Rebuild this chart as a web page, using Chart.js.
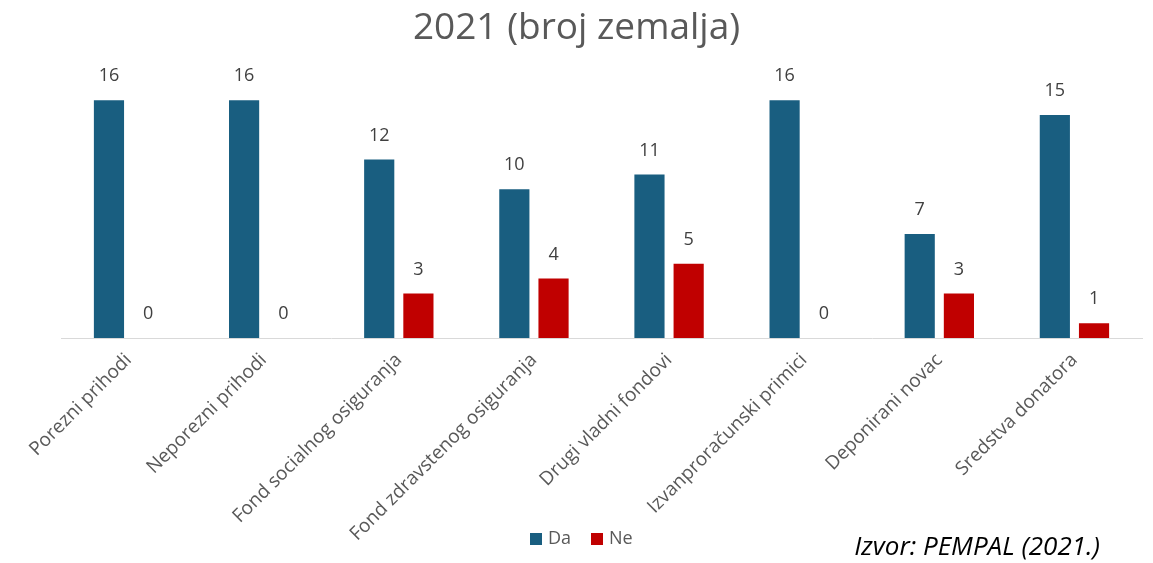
<!DOCTYPE html>
<html lang="hr">
<head>
    <meta charset="UTF-8">
    <title>2021 (broj zemalja)</title>
    <script src="https://cdn.jsdelivr.net/npm/chart.js"></script>
    <style>
        html, body {
            margin: 0;
            padding: 0;
            background: #fff;
        }
        #wrap {
            width: 1153px;
            height: 563px;
            position: relative;
        }
    </style>
</head>
<body>
    <div id="wrap">
        <canvas id="chart" width="1153" height="563"></canvas>
    </div>

    <script>
        // podaci s grafikona
        const kategorije = [
            'Porezni prihodi',
            'Neporezni prihodi',
            'Fond socialnog osiguranja',
            'Fond zdravstenog osiguranja',
            'Drugi vladni fondovi',
            'Izvanproračunski primici',
            'Deponirani novac',
            'Sredstva donatora'
        ];
        const da = [16, 16, 12, 10, 11, 16, 7, 15];
        const ne = [0, 0, 3, 4, 5, 0, 3, 1];

        const FONT = '"Open Sans", "Noto Sans", sans-serif';

        // brojevi iznad stupaca
        const valueLabels = {
            id: 'valueLabels',
            afterDatasetsDraw(chart) {
                const ctx = chart.ctx;
                ctx.save();
                ctx.font = '18px ' + FONT;
                ctx.fillStyle = '#404040';
                ctx.textAlign = 'center';
                ctx.textBaseline = 'bottom';
                chart.data.datasets.forEach((ds, i) => {
                    chart.getDatasetMeta(i).data.forEach((bar, j) => {
                        ctx.fillText(ds.data[j], bar.x, bar.y - 15);
                    });
                });
                ctx.restore();
            }
        };

        // legenda i izvor na dnu
        const bottomText = {
            id: 'bottomText',
            afterDraw(chart) {
                const ctx = chart.ctx;
                ctx.save();
                ctx.font = '18px ' + FONT;
                ctx.textBaseline = 'middle';
                let x = 530;
                const y = 539;
                chart.data.datasets.forEach(ds => {
                    ctx.fillStyle = ds.backgroundColor;
                    ctx.fillRect(x, y - 6, 12, 12);
                    ctx.fillStyle = '#595959';
                    ctx.textAlign = 'left';
                    ctx.fillText(ds.label, x + 18, y);
                    x += 61;
                });

                ctx.font = 'italic 26px ' + FONT;
                ctx.fillStyle = '#000';
                ctx.textAlign = 'right';
                ctx.fillText('Izvor: PEMPAL (2021.)', 1100, 548);
                ctx.restore();
            }
        };

        // prazne osi samo za razmak lijevo i desno
        const hiddenAxis = (position, width) => ({
            position: position,
            display: true,
            min: 0,
            max: 18,
            grid: { display: false },
            border: { display: false },
            ticks: { display: false },
            afterFit(scale) {
                scale.width = width;
            }
        });

        new Chart(document.getElementById('chart'), {
            type: 'bar',
            data: {
                labels: kategorije,
                datasets: [
                    {
                        label: 'Da',
                        data: da,
                        backgroundColor: '#195E80',
                        barPercentage: 0.77,
                        categoryPercentage: 0.58
                    },
                    {
                        label: 'Ne',
                        data: ne,
                        backgroundColor: '#C00000',
                        barPercentage: 0.77,
                        categoryPercentage: 0.58
                    }
                ]
            },
            options: {
                responsive: false,
                animation: false,
                layout: {
                    padding: 0
                },
                plugins: {
                    legend: { display: false },
                    tooltip: { enabled: false },
                    title: {
                        display: true,
                        text: '2021 (broj zemalja)',
                        color: '#595959',
                        font: { size: 37, family: FONT, weight: 'normal' },
                        padding: { top: 6, bottom: 20 }
                    }
                },
                scales: {
                    x: {
                        grid: { display: false },
                        border: { display: true, color: '#d9d9d9', width: 1 },
                        ticks: {
                            color: '#595959',
                            font: { size: 19, family: FONT },
                            minRotation: 45,
                            maxRotation: 45,
                            autoSkip: false
                        },
                        afterFit(scale) {
                            scale.height = 225;
                        }
                    },
                    y: hiddenAxis('left', 61),
                    y2: hiddenAxis('right', 11)
                }
            },
            plugins: [valueLabels, bottomText]
        });
    </script>
</body>
</html>
